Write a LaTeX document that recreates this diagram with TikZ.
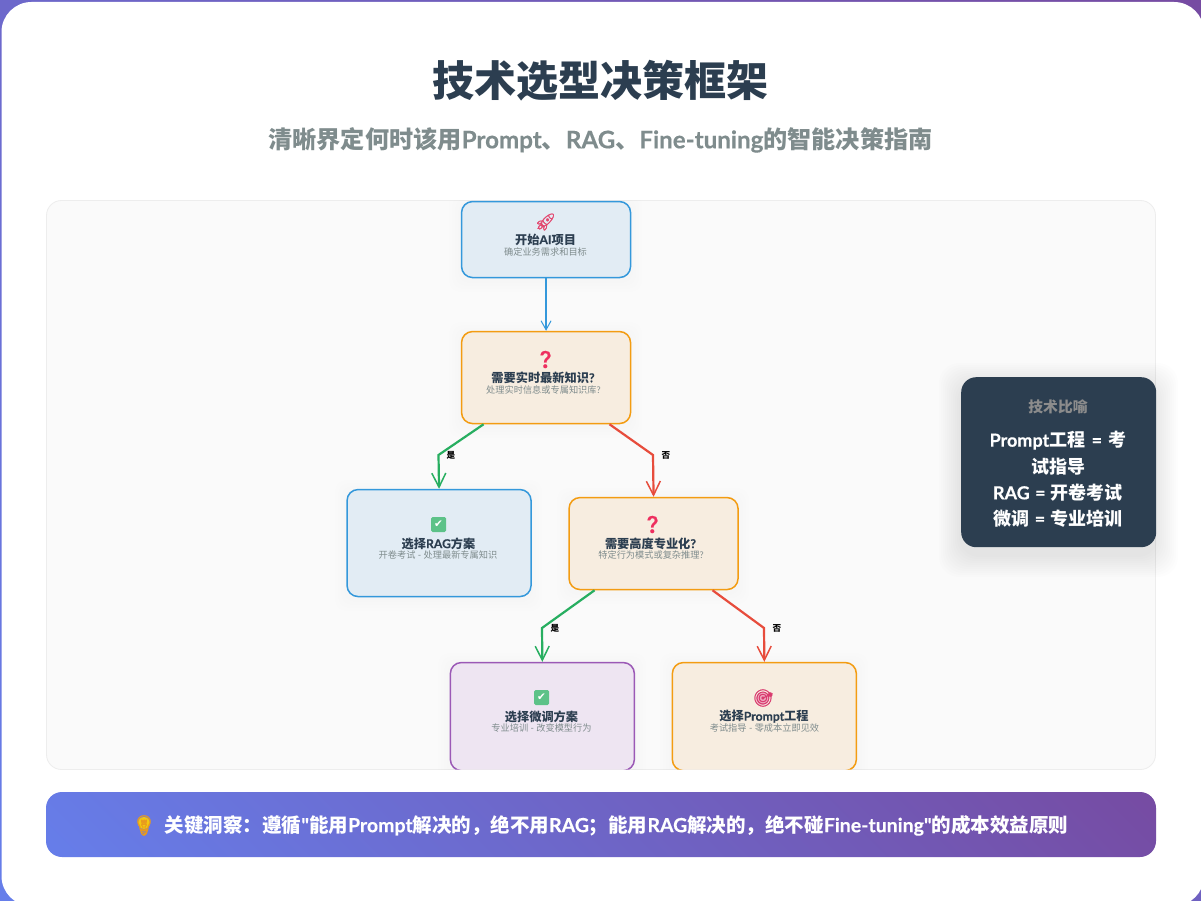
\documentclass[tikz,border=0pt]{standalone}
\usepackage{fontspec}
\setmainfont{Noto Sans CJK SC}
\newfontfamily\emojifont[FakeBold=1.2]{Noto Emoji}
\newfontfamily\symfont{DejaVu Sans}
\newfontfamily\latfont[BoldFeatures={FakeBold=0.35}]{Lato}
\newcommand{\lat}[1]{{\latfont #1}}
\usetikzlibrary{arrows.meta}
\definecolor{ink}{HTML}{2C3E50}
\definecolor{mute}{HTML}{7F8C8D}
\definecolor{gA}{HTML}{667EEA}
\definecolor{gB}{HTML}{764BA2}
\definecolor{cblue}{HTML}{3498DB}
\definecolor{corange}{HTML}{F39C12}
\definecolor{cpurple}{HTML}{9B59B6}
\definecolor{cgreen}{HTML}{27AE60}
\definecolor{cred}{HTML}{E74C3C}
\definecolor{fblue}{HTML}{E2ECF4}
\definecolor{forange}{HTML}{F7EDE0}
\definecolor{fpurple}{HTML}{EEE5F2}
\definecolor{erocket}{HTML}{E2466E}
\definecolor{equest}{HTML}{EE2F5F}
\definecolor{etarget}{HTML}{D93A6E}
\definecolor{ebulb}{HTML}{E89A1E}
\newcommand{\fs}[1]{\fontsize{#1}{#1}\selectfont}
\newcommand{\softshadow}[5]{% x0 y0 x1 y1 radius
  \foreach \g in {12,9,6,3}{
    \fill[black,opacity=0.005,rounded corners=#5pt] (#1-\g,#2-\g+3) rectangle (#3+\g,#4+\g+3);
  }}
\tikzset{
  x=1pt,y=-1pt,
  box/.style={draw=#1,line width=1.5pt,rounded corners=11pt,inner sep=0pt,anchor=north west},
  ntitle/.style={text=ink,inner sep=0pt,font=\fs{12.2}\bfseries},
  nsub/.style={text=mute,inner sep=0pt,font=\fs{9.2}},
  emo/.style={text=#1,inner sep=0pt,font=\fs{17}\emojifont},
  tickbox/.style={fill=cgreen!75!white,rounded corners=1.5pt,minimum size=15pt,inner sep=0pt,text=white,font=\fs{10.5}\symfont},
  blueedge/.style={draw=cblue,line width=1.3pt,-{Straight Barb[length=9pt,width=10pt,line width=1pt]}},
  yesedge/.style={draw=cgreen,line width=2.2pt,-{Straight Barb[length=14pt,width=14pt,line width=1.5pt]}},
  noedge/.style={draw=cred,line width=2.2pt,-{Straight Barb[length=14pt,width=14pt,line width=1.5pt]}},
  elabel/.style={text=black,inner sep=0pt,font=\fs{8.6}\bfseries},
  darkline/.style={text=white,inner sep=0pt,font=\fs{18}\bfseries},
}
\begin{document}
\begin{tikzpicture}
\useasboundingbox (0,0) rectangle (1201,901);
% page gradient
\begin{scope}
\clip (0,0) rectangle (1201,901);
\shade[transform canvas={rotate around={45:(600.5,450.5)}},left color=gA,right color=gB]
  (600.5-743,450.5-1000) rectangle (600.5+743,450.5+1000);
\end{scope}
% card
\fill[white,rounded corners=30pt] (1.5,2) rectangle (1204,906);
% title
\node[text=ink,inner sep=0pt,font=\fs{42}\bfseries] (title) at (600.5,80.7) {技术选型决策框架};
\node[text=mute,inner sep=0pt,font=\fs{24.15}\bfseries] (subtitle) at (600.5,140) {清晰界定何时该用\lat{Prompt}、\lat{RAG}、\lat{Fine-tuning}的智能决策指南};
% container
\filldraw[fill=black!2,draw=black!7,line width=0.8pt,rounded corners=15pt] (46.5,200.5) rectangle (1155.5,769.5);
\begin{scope}
\clip[rounded corners=15pt] (46.5,200.5) rectangle (1155.5,769.5);
\softshadow{461}{201}{630}{277}{11}
\softshadow{461}{331}{630}{423}{11}
\softshadow{347}{489}{530}{596}{11}
\softshadow{569}{497}{737}{589}{11}
\softshadow{450}{662}{634}{772}{11}
\softshadow{672}{662}{856}{772}{11}
\node[box=cblue,fill=fblue,minimum width=169pt,minimum height=76pt] (start) at (460.8,200.8) {};
\node[box=corange,fill=forange,minimum width=169pt,minimum height=92pt] (q1) at (460.8,330.8) {};
\node[box=cblue,fill=fblue,minimum width=184pt,minimum height=107pt] (rag) at (346.3,488.8) {};
\node[box=corange,fill=forange,minimum width=169pt,minimum height=92pt] (q2) at (568.3,496.8) {};
\node[box=cpurple,fill=fpurple,minimum width=184pt,minimum height=108pt] (fine) at (449.6,661.8) {};
\node[box=corange,fill=forange,minimum width=184pt,minimum height=108pt] (prompt) at (671.6,661.8) {};
\end{scope}
% node contents
\node[emo=erocket] (e1) at (545.5,222) {🚀};
\node[ntitle] (t1) at (545.5,239.5) {开始\lat{AI}项目};
\node[nsub] (s1) at (545.5,251.5) {确定业务需求和目标};
\node[emo=equest] (e2) at (545.5,359.5) {❓};
\node[ntitle] (t2) at (543,377.5) {需要实时最新知识\lat{?}};
\node[nsub] (s2) at (543.5,389.5) {处理实时信息或专属知识库\lat{?}};
\node[tickbox] (e3) at (438.5,524.5) {✔};
\node[ntitle] (t3) at (438.5,543.5) {选择\lat{RAG}方案};
\node[nsub] (s3) at (438,555) {开卷考试\lat{ - }处理最新专属知识};
\node[emo=equest] (e4) at (652.5,524.5) {❓};
\node[ntitle] (t4) at (650.5,543.5) {需要高度专业化\lat{?}};
\node[nsub] (s4) at (651,555) {特定行为模式或复杂推理\lat{?}};
\node[tickbox] (e5) at (541.5,697.5) {✔};
\node[ntitle] (t5) at (541.5,716.5) {选择微调方案};
\node[nsub] (s5) at (541.5,728) {专业培训\lat{ - }改变模型行为};
\fill[etarget!45!white] (762.5,698.5) circle (6.5pt);
\node[emo=etarget] (e6) at (763.5,698) {🎯};
\node[ntitle] (t6) at (764,716.5) {选择\lat{Prompt}工程};
\node[nsub] (s6) at (764.5,728) {考试指导\lat{ - }零成本立即见效};
% connectors
\coordinate (c1) at (438.5,455);
\coordinate (c2) at (653,455);
\coordinate (c3) at (542,628);
\coordinate (c4) at (764,628);
\draw[blueedge] (start.south) -- (q1.north);
\draw[yesedge] ([xshift=-62.5pt]q1.south) -- (c1) -- (rag.north);
\draw[noedge] ([xshift=63.5pt]q1.south) -- (c2) -- (q2.north);
\draw[yesedge] ([xshift=-59pt]q2.south) -- (c3) -- (fine.north);
\draw[noedge] ([xshift=59pt]q2.south) -- (c4) -- (prompt.north);
\node[elabel] (l1) at (451,455.5) {是};
\node[elabel] (l2) at (666,455.5) {否};
\node[elabel] (l3) at (555,628.5) {是};
\node[elabel] (l4) at (777,628.5) {否};
% analogy card
\foreach \g in {22,20,18,16,14,12,10,8,6,4,2}{
  \fill[black,opacity=0.009,rounded corners=20pt] (961-\g,377-\g+8) rectangle (1156+\g,547+\g+8);
}
\node[fill=ink,rounded corners=15pt,minimum width=195pt,minimum height=170pt,inner sep=0pt,anchor=north west] (dark) at (961,377) {};
\node[text=black!45,inner sep=0pt,font=\fs{14.8}\bfseries] (dt) at (1058,407) {技术比喻};
\node[darkline] (d1) at (1058,440.5) {\lat{Prompt}工程\hspace{2pt}\lat{ = }\hspace{2pt}考};
\node[darkline] (d2) at (1058,466.5) {试指导};
\node[darkline] (d3) at (1058,492.5) {\lat{RAG}\hspace{1pt}\lat{ = }\hspace{1pt}开卷考试};
\node[darkline] (d4) at (1058,518.5) {微调\hspace{1pt}\lat{ = }\hspace{1pt}专业培训};
% banner
\begin{scope}
\clip[rounded corners=16pt] (46,792) rectangle (1156,857);
\shade[transform canvas={rotate around={45:(601,824.5)}},left color=gA,right color=gB]
  (601-415.5,824.5-700) rectangle (601+415.5,824.5+700);
\end{scope}
\fill[ebulb!55!yellow] (144,823) circle (6pt);
\node[emo=ebulb,font=\fs{20}\emojifont] (bulb) at (144,825.5) {💡};
\node[text=white,inner sep=0pt,font=\fs{19.5}\bfseries] (banner) at (616.5,825.5) {关键洞察：遵循\lat{"}能用\lat{Prompt}解决的，绝不用\lat{RAG}；能用\lat{RAG}解决的，绝不碰\lat{Fine-tuning"}的成本效益原则};
\end{tikzpicture}
\end{document}
